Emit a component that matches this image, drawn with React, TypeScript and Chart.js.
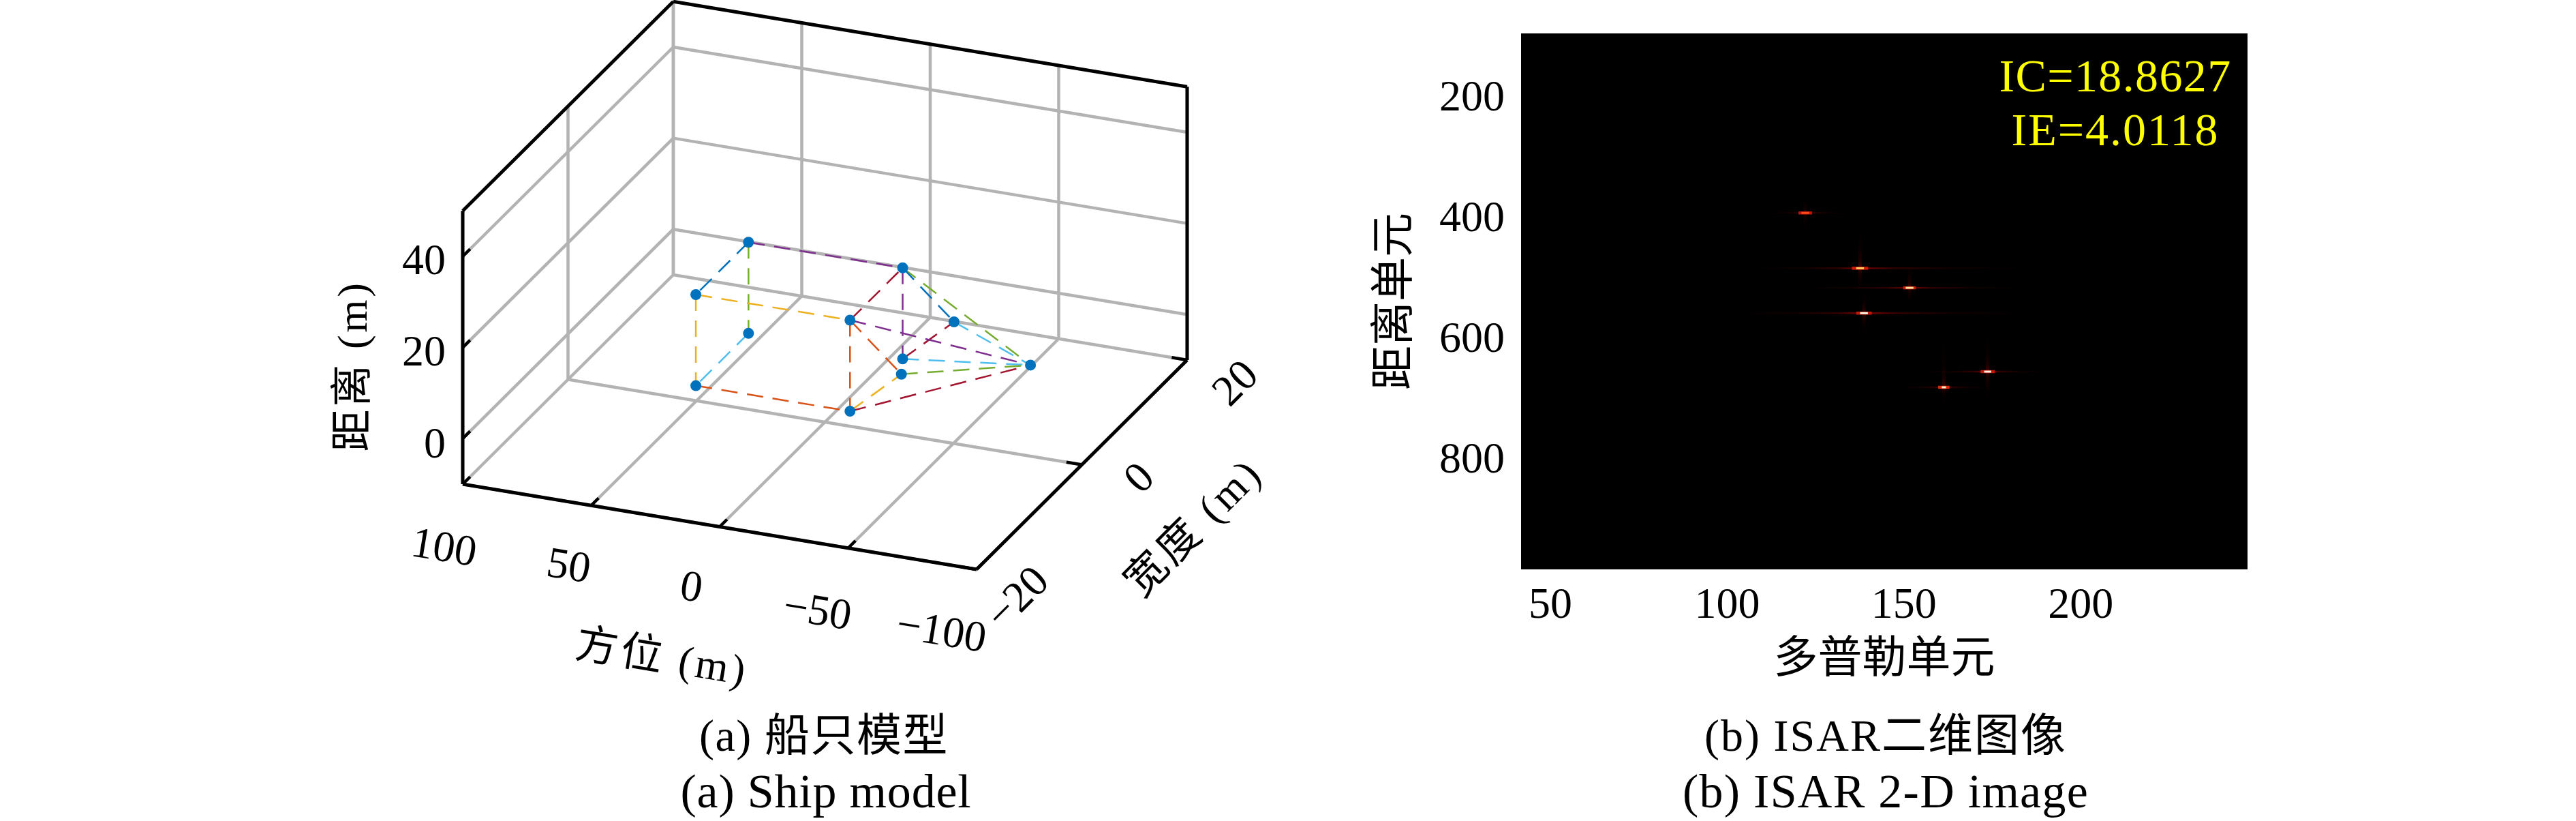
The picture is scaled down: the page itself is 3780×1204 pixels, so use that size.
import React, { useEffect, useRef } from "react";
import { Chart, registerables } from "chart.js";

Chart.register(...registerables);

const SERIF = '"Liberation Serif", "Noto Sans CJK SC", serif';

// ---------- Left panel: 3-D ship model ----------
const azimuthTicks = [100, 50, 0, -50, -100];
const widthTicks = [-20, 0, 20];
const rangeTicks = [0, 20, 40];
const azimuthLimits = [100, -100];
const widthLimits = [-20, 20];
const rangeLimits = [-10, 50];

const shipAzimuth = [40, -20, 40, -20, 40, -20, 40, -20, -40, -40, -80];
const shipWidth = [-5, -5, 5, 5, -5, -5, 5, 5, -5, 5, 0];
const shipRange = [0, 0, 0, 0, 20, 20, 20, 20, 10, 10, 10];

const lineColors = ["#0072BD", "#D95319", "#EDB120", "#7E2F8E", "#77AC30", "#4DBEEE", "#A2142F"];
const shipEdgeFrom = [6, 7, 0, 5, 5, 4, 4, 1, 6, 7, 5, 6, 8, 7, 2, 3, 9, 5, 3, 1];
const shipEdgeTo = [4, 9, 1, 1, 8, 5, 0, 8, 7, 3, 10, 2, 10, 10, 0, 10, 10, 7, 9, 10];
const shipEdgeColor = [0, 0, 1, 1, 1, 2, 2, 2, 3, 3, 3, 4, 4, 4, 5, 5, 5, 6, 6, 6];

// projection of the 3-D axes on the page
const project = (a: number, w: number, r: number) => ({
  x: 1210.5 - 3.77 * a + 7.725 * w,
  y: 552.2 - 0.625 * a - 7.675 * w - 6.68 * r,
});

// ---------- Right panel: ISAR image ----------
const dopplerTicks = [50, 100, 150, 200];
const rangeCellTicks = [200, 400, 600, 800];
const dopplerLimits = [41.7, 247.2];
const rangeCellLimits = [91, 980];

const peakDoppler = [122.1, 137.6, 151.6, 138.7, 173.7, 161.3];
const peakRangeCell = [388.8, 480.5, 513, 555, 652, 678];
const peakLeft = [111, 108, 120, 103, 155, 148];
const peakRight = [135, 185, 185, 185, 190, 175];
const peakUp = [360, 420, 470, 520, 595, 600];
const peakDown = [420, 520, 540, 590, 700, 705];
const peakCoreHalf = [1.1, 1.1, 1.1, 1.1, 1.0, 0.6];
const peakHaloHalf = [1.9, 2.3, 1.8, 2.2, 2.0, 1.6];
const peakCoreColor = ["#ff4a18", "#ffd060", "#ffdca0", "#fff6e6", "#fff0e0", "#ffe8d0"];
const peakHaloColor = ["#b81808", "#d01808", "#c02008", "#c01808", "#c01808", "#e02808"];
const peakStreakAlpha = [0.45, 0.75, 0.7, 0.75, 0.7, 0.55];

type Label = { t: string; x: number; y: number; r?: number; s: number; w?: number; c?: string };

const leftTexts: Label[] = [
  { t: "40", x: 622, y: 385, s: 64 },
  { t: "20", x: 622, y: 519, s: 64 },
  { t: "0", x: 638, y: 654, s: 64 },
  { t: "100", x: 651, y: 806, r: 9.4, s: 64 },
  { t: "50", x: 834, y: 833, r: 9.4, s: 64 },
  { t: "0", x: 1014, y: 864, r: 9.4, s: 64 },
  { t: "−50", x: 1199, y: 899, r: 9.4, s: 64 },
  { t: "−100", x: 1381, y: 929, r: 9.4, s: 64 },
  { t: "−20", x: 1495, y: 879, r: -45, s: 64 },
  { t: "0", x: 1674, y: 703, r: -45, s: 64 },
  { t: "20", x: 1815, y: 564, r: -45, s: 64 },
  { t: "方位 (m)", x: 971, y: 968, r: 9.4, s: 62, w: 256 },
  { t: "宽度 (m)", x: 1754, y: 776, r: -45, s: 62, w: 256 },
  { t: "距离 (m)", x: 522, y: 537, r: -90, s: 62, w: 251 },
  { t: "(a) 船只模型", x: 1209, y: 1084, s: 66, w: 366 },
  { t: "(a) Ship model", x: 1212, y: 1166, s: 70, w: 427 },
];

const rightTexts: Label[] = [
  { t: "IC=18.8627", x: 3104, y: 116, s: 68, w: 341, c: "#ffff00" },
  { t: "IE=4.0118", x: 3104, y: 195, s: 68, w: 305, c: "#ffff00" },
  { t: "(b) ISAR二维图像", x: 2767, y: 1084, s: 66, w: 532 },
  { t: "(b) ISAR 2-D image", x: 2767, y: 1166, s: 70, w: 596 },
];

const LEFT_W = 1900;
const RIGHT_OFFSET = 1900;
const HEIGHT = 1204;

const textPlugin = (texts: Label[], dx: number) => ({
  id: "pageTexts",
  afterDraw(chart: any) {
    const ctx = chart.ctx as any;
    for (const l of texts) {
      ctx.save();
      ctx.translate(l.x - dx, l.y);
      ctx.rotate(((l.r || 0) * Math.PI) / 180);
      ctx.font = `${l.s}px ${SERIF}`;
      ctx.fillStyle = l.c || "#000";
      ctx.textAlign = "center";
      ctx.textBaseline = "middle";
      if (l.w) {
        const m = ctx.measureText(l.t).width;
        ctx.letterSpacing = `${(l.w - m) / l.t.length}px`;
      }
      ctx.fillText(l.t, 0, 0);
      ctx.restore();
    }
  },
});

const seg = (p: { x: number; y: number }, q: { x: number; y: number }, color: string, width: number, dash?: number[]) => ({
  data: [p, q],
  showLine: true,
  pointRadius: 0,
  borderColor: color,
  borderWidth: width,
  borderDash: dash || [],
  borderCapStyle: "butt",
  fill: false,
});

function leftDatasets() {
  const [aHi, aLo] = azimuthLimits;
  const [wLo, wHi] = widthLimits;
  const [rLo, rHi] = rangeLimits;
  const grey = "#b3b3b3";
  const black = "#000000";
  const sets: any[] = [];

  sets.push({
    data: shipAzimuth.map((a, i) => project(a, shipWidth[i], shipRange[i])),
    showLine: false,
    pointRadius: 8,
    pointBackgroundColor: "#0072BD",
    pointBorderWidth: 0,
  });

  shipEdgeFrom.forEach((f, i) => {
    const t = shipEdgeTo[i];
    sets.push(
      seg(
        project(shipAzimuth[f], shipWidth[f], shipRange[f]),
        project(shipAzimuth[t], shipWidth[t], shipRange[t]),
        lineColors[shipEdgeColor[i]],
        2.5,
        [24, 14]
      )
    );
  });

  // black box edges and tick marks
  sets.push(seg(project(aHi, wLo, rLo), project(aHi, wLo, rHi), black, 5));
  sets.push(seg(project(aHi, wLo, rHi), project(aHi, wHi, rHi), black, 5));
  sets.push(seg(project(aHi, wHi, rHi), project(aLo, wHi, rHi), black, 5));
  sets.push(seg(project(aLo, wHi, rHi), project(aLo, wHi, rLo), black, 5));
  sets.push(seg(project(aHi, wLo, rLo), project(aLo, wLo, rLo), black, 5));
  sets.push(seg(project(aLo, wLo, rLo), project(aLo, wHi, rLo), black, 5));
  azimuthTicks.forEach((a) => sets.push(seg(project(a, wLo, rLo), project(a, wLo + 1.4, rLo), black, 4.5)));
  rangeTicks.forEach((r) => sets.push(seg(project(aHi, wLo, r), project(aHi, wLo + 1.4, r), black, 4.5)));
  widthTicks.forEach((w) => sets.push(seg(project(aLo, w, rLo), project(aLo + 6, w, rLo), black, 4.5)));

  // grey grid on the floor and the two walls
  azimuthTicks.forEach((a) => {
    sets.push(seg(project(a, wLo, rLo), project(a, wHi, rLo), grey, 4.5));
    sets.push(seg(project(a, wHi, rLo), project(a, wHi, rHi), grey, 4.5));
  });
  widthTicks.forEach((w) => {
    sets.push(seg(project(aHi, w, rLo), project(aLo, w, rLo), grey, 4.5));
    sets.push(seg(project(aHi, w, rLo), project(aHi, w, rHi), grey, 4.5));
  });
  rangeTicks.forEach((r) => {
    sets.push(seg(project(aHi, wLo, r), project(aHi, wHi, r), grey, 4.5));
    sets.push(seg(project(aHi, wHi, r), project(aLo, wHi, r), grey, 4.5));
  });
  return sets;
}

function streakGradient(chart: any, axis: "x" | "y", from: number, peak: number, to: number, alpha: number) {
  if (!chart.chartArea) return "rgba(0,0,0,0)";
  const s = chart.scales[axis];
  const p0 = s.getPixelForValue(from);
  const p1 = s.getPixelForValue(to);
  const g = axis === "x" ? chart.ctx.createLinearGradient(p0, 0, p1, 0) : chart.ctx.createLinearGradient(0, p0, 0, p1);
  const t = (peak - from) / (to - from);
  const col = (a: number) => `rgba(170,0,0,${a * alpha})`;
  g.addColorStop(0, col(0));
  g.addColorStop(t * 0.45, col(0.12));
  g.addColorStop(t * 0.8, col(0.4));
  g.addColorStop(t, col(1));
  g.addColorStop(t + (1 - t) * 0.2, col(0.4));
  g.addColorStop(t + (1 - t) * 0.55, col(0.12));
  g.addColorStop(1, col(0));
  return g;
}

function rightDatasets() {
  const sets: any[] = [];
  peakDoppler.forEach((d, i) => {
    const r = peakRangeCell[i];
    sets.push(seg({ x: d - peakCoreHalf[i], y: r }, { x: d + peakCoreHalf[i], y: r }, peakCoreColor[i], 3));
    sets.push(seg({ x: d - peakHaloHalf[i], y: r }, { x: d + peakHaloHalf[i], y: r }, peakHaloColor[i], 4.5));
    sets.push({
      ...seg({ x: peakLeft[i], y: r }, { x: peakRight[i], y: r }, "#000", 2.4),
      borderColor: (c: any) => streakGradient(c.chart, "x", peakLeft[i], d, peakRight[i], peakStreakAlpha[i]),
    });
    sets.push({
      ...seg({ x: d, y: peakUp[i] }, { x: d, y: peakDown[i] }, "#000", 5),
      borderColor: (c: any) => streakGradient(c.chart, "y", peakUp[i], r, peakDown[i], peakStreakAlpha[i] * 0.55),
    });
  });
  return sets;
}

const blackBackground = {
  id: "imageBackground",
  beforeDatasetsDraw(chart: any) {
    const { ctx, chartArea: a } = chart;
    ctx.save();
    ctx.fillStyle = "#000";
    ctx.fillRect(a.left, a.top, a.right - a.left, a.bottom - a.top);
    ctx.restore();
  },
};

const noScalePadding = (s: any) => {
  s.paddingLeft = 0;
  s.paddingRight = 0;
  s.paddingTop = 0;
  s.paddingBottom = 0;
};

export default function App() {
  const leftRef = useRef<HTMLCanvasElement>(null);
  const rightRef = useRef<HTMLCanvasElement>(null);

  useEffect(() => {
    const left = new Chart(leftRef.current as any, {
      type: "scatter",
      data: { datasets: leftDatasets() },
      options: {
        animation: false,
        responsive: false,
        devicePixelRatio: 1,
        layout: { padding: 0, autoPadding: false },
        plugins: { legend: { display: false }, tooltip: { enabled: false } },
        scales: {
          x: { type: "linear", display: false, min: 0, max: LEFT_W },
          y: { type: "linear", display: false, min: 0, max: HEIGHT, reverse: true },
        },
      } as any,
      plugins: [textPlugin(leftTexts, 0)],
    } as any);

    const tickFont = { family: SERIF, size: 64 };
    const right = new Chart(rightRef.current as any, {
      type: "scatter",
      data: { datasets: rightDatasets() },
      options: {
        animation: false,
        responsive: false,
        devicePixelRatio: 1,
        layout: { padding: { left: 100, right: 3780 - 3298, top: 49, bottom: 196 }, autoPadding: false },
        plugins: { legend: { display: false }, tooltip: { enabled: false } },
        scales: {
          x: {
            type: "linear",
            min: dopplerLimits[0],
            max: dopplerLimits[1],
            grid: { display: false, drawTicks: false },
            border: { display: false },
            ticks: { font: tickFont, color: "#000", padding: 16, maxRotation: 0 },
            afterBuildTicks: (s: any) => { s.ticks = dopplerTicks.map((value) => ({ value })); },
            afterFit: (s: any) => { s.height = 173; noScalePadding(s); },
            title: { display: true, text: "多普勒单元", color: "#000", font: { family: SERIF, size: 65 }, padding: 0 },
          },
          y: {
            type: "linear",
            min: rangeCellLimits[0],
            max: rangeCellLimits[1],
            reverse: true,
            grid: { display: false, drawTicks: false },
            border: { display: false },
            ticks: { font: tickFont, color: "#000", padding: 24 },
            afterBuildTicks: (s: any) => { s.ticks = rangeCellTicks.map((value) => ({ value })); },
            afterFit: (s: any) => { s.width = 2232 - RIGHT_OFFSET - 100; noScalePadding(s); },
            title: { display: true, text: "距离单元", color: "#000", font: { family: SERIF, size: 65 }, padding: { top: 10, bottom: 0 } },
          },
        },
      } as any,
      plugins: [blackBackground, textPlugin(rightTexts, RIGHT_OFFSET)],
    } as any);

    return () => {
      left.destroy();
      right.destroy();
    };
  }, []);

  return (
    <div style={{ position: "absolute", left: 0, top: 0, width: 3780, height: HEIGHT, background: "#fff", overflow: "hidden" }}>
      <canvas ref={leftRef} width={LEFT_W} height={HEIGHT} style={{ position: "absolute", left: 0, top: 0, width: LEFT_W, height: HEIGHT }} />
      <canvas ref={rightRef} width={3780 - RIGHT_OFFSET} height={HEIGHT} style={{ position: "absolute", left: RIGHT_OFFSET, top: 0, width: 3780 - RIGHT_OFFSET, height: HEIGHT }} />
    </div>
  );
}
